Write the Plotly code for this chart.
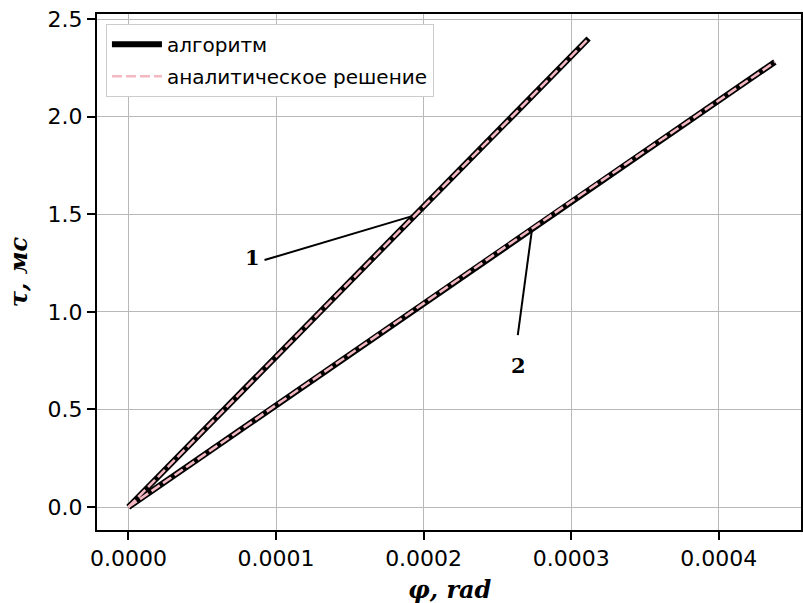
import plotly.graph_objects as go

# data
phi_1 = [0.0, 0.00005, 0.0001, 0.00015, 0.0002, 0.00025, 0.0003118]
tau_1 = [0.0, 0.385, 0.77, 1.15, 1.535, 1.925, 2.40]
phi_2 = [0.0, 0.0001, 0.0002, 0.0003, 0.000438]
tau_2 = [0.0, 0.52, 1.043, 1.565, 2.28]

x_ticks = [0.0, 0.0001, 0.0002, 0.0003, 0.0004]
y_ticks = [0.0, 0.5, 1.0, 1.5, 2.0, 2.5]

labels = ["1", "2"]
label_pos = [(0.0000841, 1.276), (0.0002645, 0.727)]
leader_from = [(0.0000922, 1.265), (0.0002638, 0.881)]
leader_to = [(0.0001922, 1.49), (0.0002733, 1.415)]

name_alg = "алгоритм"
name_an = "аналитическое решение"

fig = go.Figure()
for i, (xs, ys) in enumerate([(phi_1, tau_1), (phi_2, tau_2)]):
    fig.add_trace(go.Scatter(x=xs, y=ys, mode="lines", name=name_alg,
                             legendgroup="alg", showlegend=(i == 0),
                             line=dict(color="black", width=6)))
for i, (xs, ys) in enumerate([(phi_1, tau_1), (phi_2, tau_2)]):
    fig.add_trace(go.Scatter(x=xs, y=ys, mode="lines", name=name_an,
                             legendgroup="an", showlegend=(i == 0),
                             line=dict(color="#f4b8c2", width=2.6, dash="10px,4px")))

for (x0, y0), (x1, y1) in zip(leader_from, leader_to):
    fig.add_shape(type="line", x0=x0, y0=y0, x1=x1, y1=y1, xref="x", yref="y",
                  line=dict(color="black", width=2))
for t, (x, y) in zip(labels, label_pos):
    fig.add_annotation(x=x, y=y, text="<b>" + t + "</b>", showarrow=False,
                       font=dict(family="DejaVu Serif", size=21, color="black"))

title_font = dict(family="DejaVu Serif", size=24, color="black")
fig.add_annotation(x=0.501, y=-0.116, xref="paper", yref="paper",
                   text="<b><i>φ, rad</i></b>", showarrow=False,
                   xanchor="center", yanchor="middle", font=title_font)
fig.add_annotation(x=-0.112, y=0.5, xref="paper", yref="paper",
                   text="<b><i>τ, мс</i></b>", showarrow=False, textangle=-90,
                   xanchor="center", yanchor="middle", font=title_font)

axis_common = dict(showgrid=True, gridcolor="#b8b8b8", gridwidth=1.3,
                   showline=True, linecolor="black", linewidth=2, mirror=True,
                   ticks="outside", ticklen=8, tickwidth=1.5, tickcolor="black",
                   zeroline=False,
                   tickfont=dict(family="DejaVu Sans", size=22, color="black"))

fig.update_layout(
    width=803, height=603,
    margin=dict(l=97, r=0, t=14, b=73),
    paper_bgcolor="white", plot_bgcolor="white",
    xaxis=dict(range=[-0.0000213, 0.0004557], tickvals=x_ticks,
               tickformat=".4f", **axis_common),
    yaxis=dict(range=[-0.1178, 2.5256], tickvals=y_ticks,
               tickformat=".1f", **axis_common),
    legend=dict(x=0.0127, y=0.981, xanchor="left", yanchor="top",
                bgcolor="white", bordercolor="#cccccc", borderwidth=1,
                tracegroupgap=3, itemwidth=50,
                font=dict(family="DejaVu Sans", size=20, color="black")),
    showlegend=True,
)

fig.write_html("out.html")
